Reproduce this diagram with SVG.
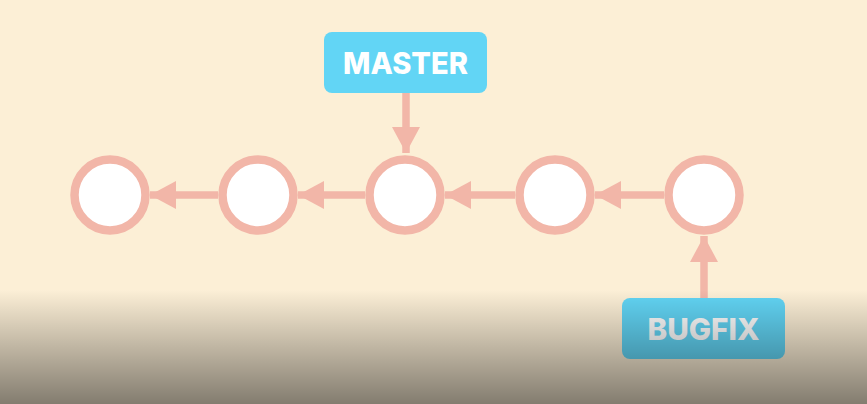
<svg xmlns="http://www.w3.org/2000/svg" width="867" height="404" viewBox="0 0 867 404">
<style>
.commit{fill:#ffffff;stroke:#F2B6A8;stroke-width:8.5}
.conn line{stroke:#F2B6A8;stroke-width:7.5}
.label{fill:#62D5F5}
.lt{font-family:Inter,"Open Sans",sans-serif;font-weight:800;font-size:30px;fill:#ffffff;text-anchor:middle}
</style>
<defs>
<marker id="ah" viewBox="0 0 26 28" refX="26" refY="14" markerWidth="26" markerHeight="28" markerUnits="userSpaceOnUse" orient="auto">
<path d="M0,0 L26,14 L0,28 Z" fill="#F2B6A8"/>
</marker>
<linearGradient id="shade" x1="0" y1="0" x2="0" y2="1">
<stop offset="0" stop-color="#000" stop-opacity="0"/>
<stop offset="1" stop-color="#000" stop-opacity="0.48"/>
</linearGradient>
</defs>
<rect width="867" height="404" fill="#FCEFD6"/>
<g class="conn">
<line x1="218" y1="195" x2="150" y2="195" marker-end="url(#ah)"/>
<line x1="365" y1="195" x2="298" y2="195" marker-end="url(#ah)"/>
<line x1="515" y1="195" x2="445" y2="195" marker-end="url(#ah)"/>
<line x1="664" y1="195" x2="595" y2="195" marker-end="url(#ah)"/>
<line x1="406" y1="93" x2="406" y2="153" marker-end="url(#ah)"/>
<line x1="704" y1="298" x2="704" y2="236" marker-end="url(#ah)"/>
</g>
<g id="c1"><circle class="commit" cx="110" cy="195" r="35.5"/></g>
<g id="c2"><circle class="commit" cx="258" cy="195" r="35.5"/></g>
<g id="c3"><circle class="commit" cx="405" cy="195" r="35.5"/></g>
<g id="c4"><circle class="commit" cx="555" cy="195" r="35.5"/></g>
<g id="c5"><circle class="commit" cx="704" cy="195" r="35.5"/></g>
<g id="master"><rect class="label" x="324" y="32" width="163" height="61" rx="8"/><text class="lt" x="405.5" y="74" textLength="125" lengthAdjust="spacingAndGlyphs">MASTER</text></g>
<g id="bugfix"><rect class="label" x="622" y="298" width="163" height="61" rx="8"/><text class="lt" x="703.5" y="340" textLength="112" lengthAdjust="spacingAndGlyphs">BUGFIX</text></g>
<rect x="0" y="290" width="867" height="114" fill="url(#shade)"/>
</svg>
